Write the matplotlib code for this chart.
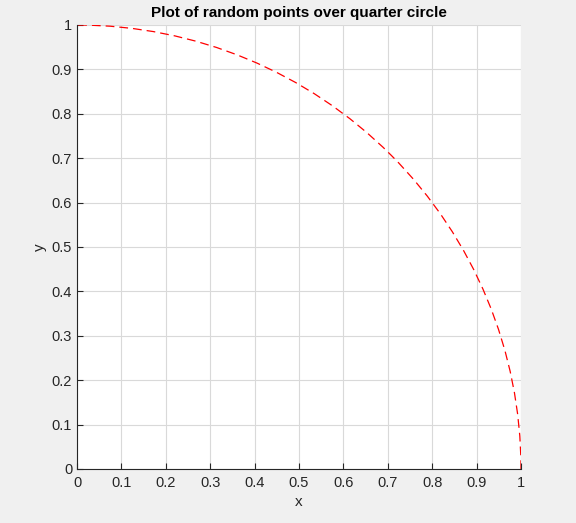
import matplotlib.pyplot as plt
from matplotlib.patches import Arc
import numpy as np

plt.rcParams['font.family'] = ['Liberation Sans', 'DejaVu Sans']

# quarter circle of radius 1 centred at the origin, 0..90 degrees
center = (0.0, 0.0)
radius = 1.0
theta_start, theta_end = 0, 90
ticks = np.round(np.arange(0, 1.01, 0.1), 1)
tick_labels = ["0", "0.1", "0.2", "0.3", "0.4", "0.5", "0.6", "0.7", "0.8", "0.9", "1"]

fig = plt.figure(figsize=(5.76, 5.23), dpi=100, facecolor="#f0f0f0")
ax = fig.add_axes([77/576, 54/523, 444/576, 444/523])
ax.set_facecolor("white")

arc = Arc(center, 2*radius, 2*radius, theta1=theta_start, theta2=theta_end,
          color="red", linestyle=(0, (7, 4)), linewidth=0.9)
ax.add_patch(arc)

ax.set_xlim(0, 1)
ax.set_ylim(0, 1)
ax.set_xticks(ticks)
ax.set_yticks(ticks)
ax.set_xticklabels(tick_labels)
ax.set_yticklabels(tick_labels)
ax.grid(True, color="#d9d9d9", linewidth=0.8)
ax.set_axisbelow(True)
ax.tick_params(direction="in", length=4, labelsize=10.5, colors="#262626")
ax.tick_params(axis="y", pad=3.5)
ax.tick_params(axis="x", pad=5)
for s in ["top", "right"]:
    ax.spines[s].set_visible(False)
for s in ["left", "bottom"]:
    ax.spines[s].set_color("#262626")
    ax.spines[s].set_linewidth(0.8)

ax.set_xlabel("x", fontsize=11, color="#262626", labelpad=4)
ax.set_ylabel("y", fontsize=11, color="#262626", va="center")
ax.yaxis.set_label_coords(-0.083, 0.5)
ax.set_title("Plot of random points over quarter circle", fontsize=11,
             fontweight="bold", pad=6)

fig.savefig("out.png", dpi=100, facecolor=fig.get_facecolor())
